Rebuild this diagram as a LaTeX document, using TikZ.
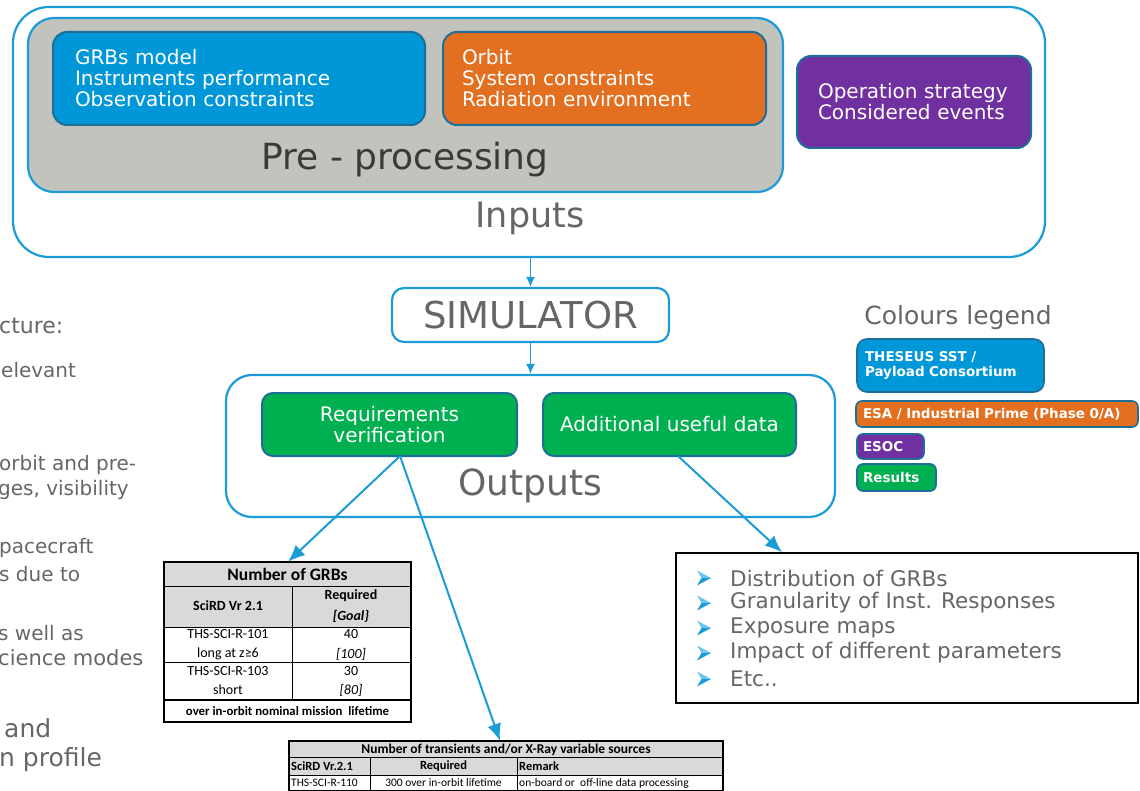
\documentclass[tikz,border=0pt]{standalone}
\usepackage{fontspec}
\setmainfont{DejaVu Sans}
\newfontfamily\calib{Carlito}
\usetikzlibrary{arrows.meta}
\definecolor{lineblue}{HTML}{1B9BD8}
\definecolor{lightblue}{HTML}{6CC6EE}
\definecolor{darkrim}{HTML}{1F6E99}
\definecolor{boxblue}{HTML}{0097D9}
\definecolor{boxorange}{HTML}{E27020}
\definecolor{boxpurple}{HTML}{7030A0}
\definecolor{boxgreen}{HTML}{00B050}
\definecolor{pregrey}{HTML}{C1C3BC}
\definecolor{txtgrey}{HTML}{666666}
\definecolor{txtdark}{HTML}{3A3A3A}
\definecolor{tabgrey}{HTML}{D9D9D9}
\tikzset{
  frame/.style={draw=lineblue, line width=2.2pt, rounded corners=#1, inner sep=0pt},
  frame/.default=18pt,
  colbox/.style={draw=darkrim, line width=2pt, fill=#1, rounded corners=14pt, text=white, inner sep=0pt},
  legbox/.style={draw=darkrim, line width=1.6pt, fill=#1, rounded corners=6pt, text=white, inner sep=0pt,
     font=\fontsize{13.5}{15.5}\selectfont\bfseries},
  link/.style={draw=lineblue, line width=2pt, -{Latex[length=17pt,width=14pt]}},
  vlink/.style={draw=lineblue, line width=1.4pt, -{Latex[length=10pt,width=9pt]}},
  bigtxt/.style={text=txtgrey, inner sep=0pt},
  sidetxt/.style={text=txtgrey, anchor=west, inner sep=0pt, font=\fontsize{20}{23}\selectfont},
  bul/.style={anchor=west, inner sep=0pt, font=\fontsize{21.5}{24}\selectfont},
  tcell/.style={inner sep=0pt, font=\calib\fontsize{14}{16}\selectfont},
  tcellb/.style={inner sep=0pt, font=\calib\fontsize{14}{16}\selectfont\bfseries},
  scell/.style={inner sep=0pt, font=\calib\fontsize{11}{13}\selectfont},
  scellb/.style={inner sep=0pt, font=\calib\fontsize{12.5}{14}\selectfont\bfseries},
}
\begin{document}
\begin{tikzpicture}[x=1pt,y=-1pt]
\useasboundingbox (0,0) rectangle (1140,791);
\fill[white] (0,0) rectangle (1140,791);

% Inputs frame
\node[frame=36pt, minimum width=1032pt, minimum height=250pt] (inputs) at (529,132) {};
\node[frame=26pt, fill=pregrey, minimum width=755pt, minimum height=174pt] (pre) at (405.5,105) {};
\node[colbox=boxblue, minimum width=372pt, minimum height=93pt, text width=328pt, align=left,
      font=\fontsize{20}{21}\selectfont] (gbox) at (239,78.5)
      {GRBs model\\Instruments performance\\Observation constraints};
\node[colbox=boxorange, minimum width=323pt, minimum height=93pt, text width=285pt, align=left,
      font=\fontsize{20}{21}\selectfont] (obox) at (604.5,78.5)
      {Orbit\\System constraints\\Radiation environment};
\node[colbox=boxpurple, minimum width=234pt, minimum height=92pt, text width=192pt, align=left,
      font=\fontsize{20}{21}\selectfont] (pbox) at (914,102)
      {Operation strategy\\Considered events};
\node[text=txtdark, inner sep=0pt, font=\fontsize{36}{38}\selectfont] (pretxt) at (405,160) {Pre - processing};
\node[bigtxt, font=\fontsize{35}{38}\selectfont] (intxt) at (530,218) {Inputs};

% Simulator
\node[frame=12pt, fill=white, minimum width=277pt, minimum height=54pt, text=txtgrey,
      font=\fontsize{37}{40}\selectfont] (sim) at (530.5,315) {SIMULATOR};

% Outputs
\node[frame=26pt, minimum width=609pt, minimum height=142pt] (outputs) at (530.5,446) {};
\node[colbox=boxgreen, rounded corners=11pt, minimum width=255pt, minimum height=63pt, align=center,
      font=\fontsize{20}{21}\selectfont] (req) at (389.5,424.5) {Requirements\\verification};
\node[colbox=boxgreen, rounded corners=11pt, minimum width=253pt, minimum height=63pt, align=center,
      font=\fontsize{20}{21}\selectfont] (add) at (669.5,424.5) {Additional useful data};
\node[bigtxt, font=\fontsize{36}{38}\selectfont] (outtxt) at (530,486) {Outputs};

\draw[vlink] (inputs.south -| sim.north) -- (sim.north);
\draw[vlink] (sim.south) -- (outputs.north -| sim.south);

% Legend
\node[bigtxt, font=\fontsize{25}{28}\selectfont] (legtitle) at (958,318) {Colours legend};
\node[legbox=boxblue, rounded corners=10pt, minimum width=187pt, minimum height=53pt, text width=171pt, align=left] (lblue) at (950.5,365.5) {THESEUS SST /\\Payload Consortium};
\node[legbox=boxorange, minimum width=282pt, minimum height=26pt, text width=268pt, align=left] (lorange) at (997,414) {ESA / Industrial Prime (Phase 0/A)};
\node[legbox=boxpurple, minimum width=67pt, minimum height=25pt, text width=55pt, align=left] (lpurple) at (890.5,446.5) {ESOC};
\node[legbox=boxgreen, minimum width=79pt, minimum height=27pt, text width=67pt, align=left] (lgreen) at (896.5,477.5) {Results};

% Bullet box
\node[draw=black, line width=1.4pt, minimum width=462pt, minimum height=150pt, inner sep=0pt] (blist) at (907,628) {};
\foreach \yy/\tt [count=\i] in {578/Distribution of GRBs, 603/Granularity of Inst. Responses, 628/Exposure maps, 653/Impact of different parameters, 679/Etc..}{
  \fill[lightblue] (697,\yy-7.5) -- (711,\yy) -- (701.5,\yy) -- cycle;
  \fill[lineblue] (697,\yy+7.5) -- (711,\yy) -- (701.5,\yy) -- cycle;
  \node[bul, text=txtgrey] (bt\i) at (730,\yy) {\tt};
}

% Left cut-off text
\node[sidetxt, font=\fontsize{22}{25}\selectfont] (s1) at (-1,326) {cture:};
\node[sidetxt] (s2) at (1,370) {elevant};
\node[sidetxt] (s3) at (-1,465) {orbit and pre-};
\node[sidetxt] (s4) at (-2,490) {ges, visibility};
\node[sidetxt] (s5) at (-1,548) {pacecraft};
\node[sidetxt] (s6) at (-1,574) {s due to};
\node[sidetxt] (s7) at (-2,633) {s well as};
\node[sidetxt, font=\fontsize{21}{23}\selectfont] (s8) at (-2,658) {cience modes};
\node[sidetxt, font=\fontsize{25}{28}\selectfont] (s9) at (4,728) {and};
\node[sidetxt, font=\fontsize{25}{28}\selectfont] (s10) at (-1,760) {n profile};

% Table 1
\node[inner sep=0pt, minimum width=247pt, minimum height=160pt] (tab1) at (287.5,642) {};
\fill[tabgrey] (164,562) rectangle (411,627);
\draw[black, line width=1pt] (164,586) -- (411,586) (164,627) -- (411,627) (164,662) -- (411,662)
   (292,586) -- (292,700);
\draw[black, line width=1.8pt] (164,700) -- (411,700);
\draw[black, line width=1.4pt] (164,562) rectangle (411,722);
\node[tcellb, font=\calib\fontsize{17.5}{19}\selectfont\bfseries] (t1a) at (287.5,574.5) {Number of GRBs};
\node[tcellb] (t1b) at (228,606) {SciRD Vr 2.1};
\node[tcellb] (t1c) at (351,596) {Required};
\node[tcellb] (t1d) at (351,616) {\itshape [Goal\}};
\node[tcell] (t1e) at (228,634) {THS-SCI-R-101};
\node[tcell] (t1f) at (228,654) {long at z≥6};
\node[tcell] (t1g) at (351,634) {40};
\node[tcell] (t1h) at (351,654) {\itshape [100]};
\node[tcell] (t1i) at (228,671) {THS-SCI-R-103};
\node[tcell] (t1j) at (228,690) {short};
\node[tcell] (t1k) at (351,671) {30};
\node[tcell] (t1l) at (351,690) {\itshape [80]};
\node[tcellb, font=\calib\fontsize{12.8}{15}\selectfont\bfseries] (t1m) at (287.5,711) {over in-orbit nominal mission\ \ lifetime};

% Table 2
\node[inner sep=0pt, minimum width=434pt, minimum height=50pt] (tab2) at (506,766) {};
\fill[tabgrey] (289,741) rectangle (723,775);
\draw[black, line width=1pt] (289,757) -- (723,757) (289,775) -- (723,775)
   (370,757) -- (370,791) (517,757) -- (517,791);
\draw[black, line width=1.2pt] (289,741) rectangle (723,790.5);
\node[scellb, font=\calib\fontsize{13.5}{15}\selectfont\bfseries] (t2a) at (506,749.5) {Number of transients and/or X-Ray variable sources};
\node[scellb, anchor=west] (t2b) at (291,766) {SciRD Vr.2.1};
\node[scellb] (t2c) at (443.5,766) {Required};
\node[scellb, anchor=west] (t2d) at (519,766) {Remark};
\node[scell, anchor=west, font=\calib\fontsize{11.5}{13}\selectfont] (t2e) at (291,783) {THS-SCI-R-110};
\node[scell, font=\calib\fontsize{11.5}{13}\selectfont] (t2f) at (443.5,783) {300 over in-orbit lifetime};
\node[scell, anchor=west, font=\calib\fontsize{11.5}{13}\selectfont] (t2g) at (519,783) {on-board or\ \ off-line data processing};

% connectors
\coordinate (rq) at (400,456);
\coordinate (ad) at (678,456);
\draw[link] (rq) -- (tab1.north -| 288,0);
\draw[link] (rq) -- (tab2.north -| 500,0);
\draw[link] (ad) -- (blist.north -| 782,0);
\end{tikzpicture}
\end{document}
